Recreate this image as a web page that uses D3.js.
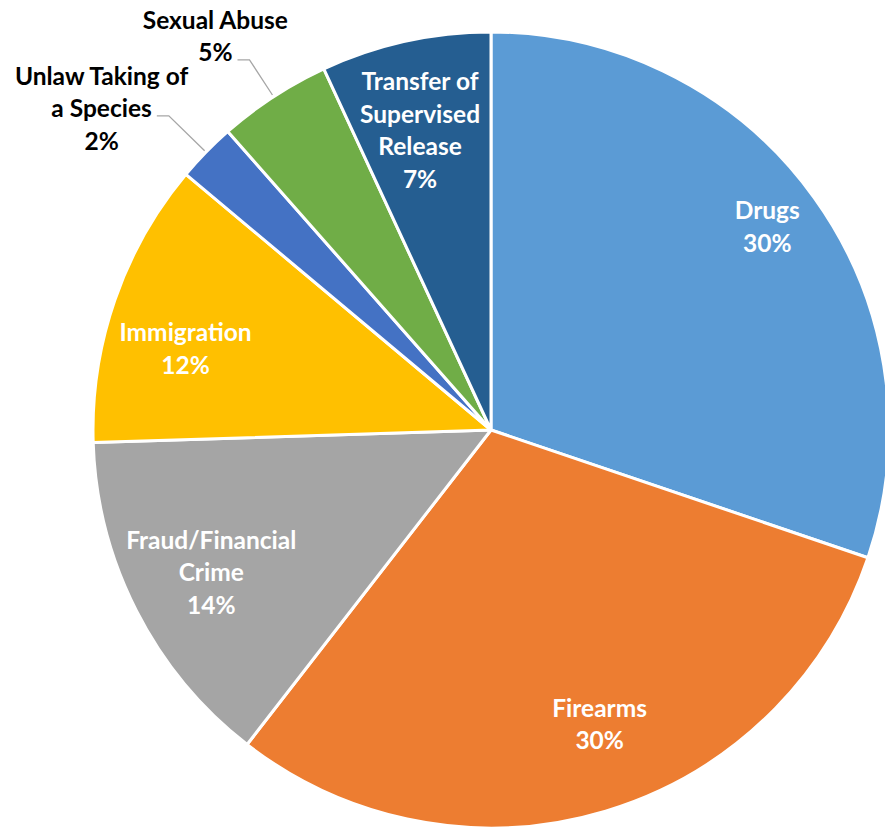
<!DOCTYPE html>
<html>
<head>
<meta charset="utf-8">
<script src="https://cdn.jsdelivr.net/npm/d3@7"></script>
<style>
    body { margin: 0; background: #fff; }
    text { font-family: Lato, "Open Sans", sans-serif; font-weight: bold; }
</style>
</head>
<body>
<div id="chart"></div>
<script>
var svgWidth = 885;
var svgHeight = 829;

// Data (shares in %, clockwise from 12 o'clock)
var categories = ["Drugs", "Firearms", "Fraud/Financial Crime", "Immigration",
    "Unlaw Taking of a Species", "Sexual Abuse", "Transfer of Supervised Release"];
var shares = [30.2, 30.3, 14.0, 11.6, 2.4, 4.6, 6.9];
var pctLabels = ["30%", "30%", "14%", "12%", "2%", "5%", "7%"];
var labelLines = [
    ["Drugs"],
    ["Firearms"],
    ["Fraud/Financial", "Crime"],
    ["Immigration"],
    ["Unlaw Taking of", "a Species"],
    ["Sexual Abuse"],
    ["Transfer of", "Supervised", "Release"]
];
var colors = ["#5B9BD5", "#ED7D31", "#A5A5A5", "#FFC000", "#4472C4", "#70AD47", "#255E91"];

var cx = 491, cy = 430, radius = 398;
var lineH = 32.5;
var fontSize = 24.5;

var svg = d3.select("#chart").append("svg")
    .attr("width", svgWidth)
    .attr("height", svgHeight);

var g = svg.append("g")
    .attr("transform", `translate(${cx}, ${cy})`);

var rows = categories.map(function (c, i) {
    return { name: c, value: shares[i], pct: pctLabels[i], lines: labelLines[i].concat([pctLabels[i]]), color: colors[i], i: i };
});

var pie = d3.pie().sort(null).value(d => d.value);
var arc = d3.arc().innerRadius(0).outerRadius(radius);
var arcs = pie(rows);

// Slices
g.selectAll("path.slice")
    .data(arcs)
    .enter()
    .append("path")
    .attr("class", "slice")
    .attr("d", arc)
    .attr("fill", d => d.data.color)
    .attr("stroke", "#fff")
    .attr("stroke-width", 3)
    .attr("stroke-linejoin", "round");

// inside labels: radius and angle nudge (deg) for the label centre
var insidePos = {
    0: { r: 343, da: -0.7 },
    1: { r: 314, da: -3.5 },
    2: { r: 314, da: 0 },
    3: { r: 316, da: -4.2 },
    6: { r: 308, da: -0.9 }
};

arcs.forEach(function (d) {
    var mid = (d.startAngle + d.endAngle) / 2;
    var n = d.data.lines.length;
    var pos = insidePos[d.data.i];

    if (pos) {
        var a = mid + pos.da * Math.PI / 180;
        var x = Math.sin(a) * pos.r;
        var y = -Math.cos(a) * pos.r;
        var t = g.append("text")
            .attr("text-anchor", "middle")
            .attr("fill", "#fff")
            .style("font-size", fontSize + "px");
        d.data.lines.forEach(function (ln, k) {
            t.append("tspan")
                .attr("x", x)
                .attr("y", y + (k - (n - 1) / 2) * lineH)
                .attr("dy", "0.35em")
                .text(ln);
        });
    } else {
        // outside label with leader line
        var r0 = radius + 2;
        var r1 = d.data.i === 4 ? 450 : 442;
        var p0 = [Math.sin(mid) * r0, -Math.cos(mid) * r0];
        var p1 = [Math.sin(mid) * r1, -Math.cos(mid) * r1];
        var p2 = [p1[0] - 12, p1[1]];

        g.append("polyline")
            .attr("points", [p0, p1, p2].map(p => p.join(",")).join(" "))
            .attr("fill", "none")
            .attr("stroke", "#A6A6A6")
            .attr("stroke-width", 1.3);

        // line of the block that sits next to the leader
        var adj = n - 2;
        if (d.data.i === 5) adj = n - 1;
        var t2 = g.append("text")
            .attr("text-anchor", "middle")
            .attr("fill", "#000")
            .style("font-size", fontSize + "px");
        var spans = d.data.lines.map(function (ln, k) {
            return t2.append("tspan")
                .attr("x", 0)
                .attr("y", p2[1] - 7 + (k - adj) * lineH)
                .attr("dy", "0.35em")
                .text(ln);
        });
        var w = spans[adj].node().getComputedTextLength();
        var tx = p2[0] - 5 - w / 2;
        spans.forEach(s => s.attr("x", tx));
    }
});
</script>
</body>
</html>
